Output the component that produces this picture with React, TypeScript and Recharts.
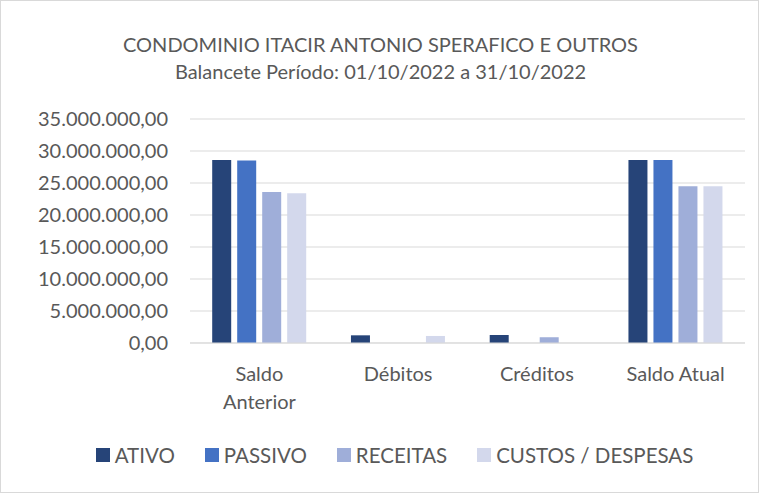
import { BarChart, Bar, XAxis, YAxis, CartesianGrid, Legend } from 'recharts';

const categories = ['Saldo Anterior', 'Débitos', 'Créditos', 'Saldo Atual'];
// x-axis labels, Excel wraps the first one onto two lines
const tickLines: Record<string, string[]> = {
  'Saldo Anterior': ['Saldo', 'Anterior'],
  'Débitos': ['Débitos'],
  'Créditos': ['Créditos'],
  'Saldo Atual': ['Saldo Atual'],
};

const ativo = [28600000, 1200000, 1250000, 28600000];
const passivo = [28500000, 0, 0, 28600000];
const receitas = [23600000, 0, 900000, 24500000];
const custos = [23400000, 1100000, 0, 24500000];

const yTicks = [0, 5000000, 10000000, 15000000, 20000000, 25000000, 30000000, 35000000];

const series = [
  { key: 'ativo', name: 'ATIVO', color: '#264478' },
  { key: 'passivo', name: 'PASSIVO', color: '#4472C4' },
  { key: 'receitas', name: 'RECEITAS', color: '#9FAED9' },
  { key: 'custos', name: 'CUSTOS / DESPESAS', color: '#D3D8EC' },
];

const data = categories.map((name, i) => ({
  name,
  ativo: ativo[i],
  passivo: passivo[i],
  receitas: receitas[i],
  custos: custos[i],
}));

const FONT = 'Lato, "Open Sans", sans-serif';
const TEXT = '#595959';

const fmt = (v: number) =>
  v.toLocaleString('pt-BR', { minimumFractionDigits: 2, maximumFractionDigits: 2 });

function CategoryTick({ x, y, payload }: any) {
  const lines = tickLines[payload.value] ?? [payload.value];
  return (
    <g transform={`translate(${x},${y})`}>
      {lines.map((line, i) => (
        <text
          key={i}
          x={0}
          y={i * 28}
          dy={30}
          textAnchor="middle"
          fill={TEXT}
          fontSize={20}
          fontFamily={FONT}
        >
          {line}
        </text>
      ))}
    </g>
  );
}

function LegendBox() {
  return (
    <div
      style={{
        display: 'flex',
        justifyContent: 'center',
        gap: 30,
        height: 30,
        alignItems: 'center',
        paddingLeft: 30,
      }}
    >
      {series.map((s) => (
        <div key={s.key} style={{ display: 'flex', alignItems: 'center', gap: 5 }}>
          <span style={{ width: 14, height: 14, background: s.color, display: 'inline-block' }} />
          <span style={{ fontFamily: FONT, fontSize: 20.5, color: TEXT }}>{s.name}</span>
        </div>
      ))}
    </div>
  );
}

export default function App() {
  return (
    <div
      style={{
        position: 'absolute',
        left: 0,
        top: 0,
        width: 759,
        height: 493,
        background: '#fff',
        boxSizing: 'border-box',
        border: '1px solid #D9D9D9',
      }}
    >
      <div
        style={{
          position: 'absolute',
          top: 30,
          left: 0,
          width: 759,
          textAlign: 'center',
          fontFamily: FONT,
          fontSize: 20,
          lineHeight: '27px',
          color: TEXT,
        }}
      >
        <div>CONDOMINIO ITACIR ANTONIO SPERAFICO E OUTROS</div>
        <div>Balancete Período: 01/10/2022 a 31/10/2022</div>
      </div>
      <div style={{ position: 'absolute', left: -1, top: -1 }}>
        <BarChart
          width={759}
          height={493}
          data={data}
          margin={{ top: 119, right: 14, bottom: 45, left: 0 }}
          barCategoryGap="16%"
          barGap={6}
        >
          <CartesianGrid vertical={false} stroke="#D9D9D9" />
          <XAxis
            dataKey="name"
            height={75}
            axisLine={{ stroke: '#D9D9D9' }}
            tickLine={false}
            tick={<CategoryTick />}
            interval={0}
          />
          <YAxis
            width={190}
            domain={[0, 35000000]}
            ticks={yTicks}
            tickFormatter={fmt}
            axisLine={false}
            tickLine={false}
            tickMargin={16}
            tick={{ fill: TEXT, fontSize: 20, fontFamily: FONT }}
          />
          <Legend
            verticalAlign="bottom"
            content={<LegendBox />}
            wrapperStyle={{ top: 440, left: 0, width: 759 }}
          />
          {series.map((s) => (
            <Bar key={s.key} dataKey={s.key} name={s.name} fill={s.color} isAnimationActive={false} />
          ))}
        </BarChart>
      </div>
    </div>
  );
}
